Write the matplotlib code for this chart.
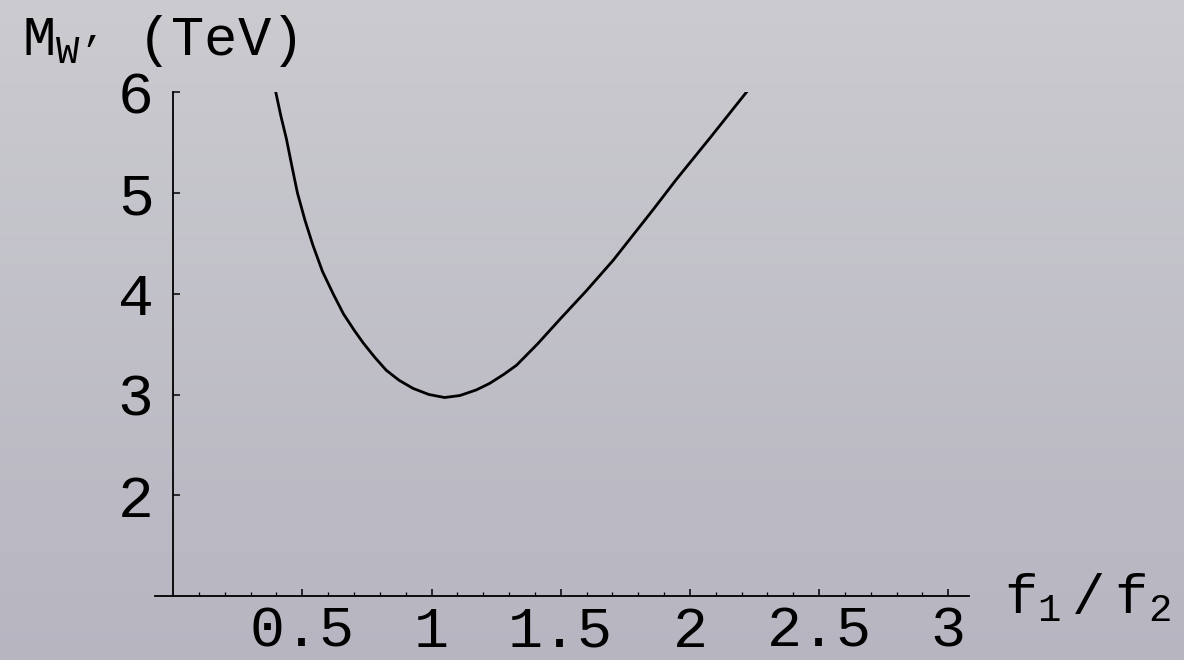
"""W' mass versus f1/f2, redrawn in a Mathematica-like style."""

import matplotlib

matplotlib.use("Agg")

import matplotlib.pyplot as plt
import numpy as np

# Curve
ratio = [0.397, 0.418, 0.438, 0.460, 0.481, 0.510, 0.541, 0.578, 0.619,
         0.659, 0.700, 0.736, 0.780, 0.825, 0.875, 0.929, 0.990, 1.051,
         1.110, 1.173, 1.225, 1.280, 1.329, 1.410, 1.495, 1.600, 1.703,
         1.780, 1.857, 1.947, 2.080, 2.220]
mass_tev = [6.00, 5.75, 5.54, 5.26, 5.00, 4.73, 4.48, 4.22, 4.00,
            3.80, 3.64, 3.51, 3.37, 3.24, 3.14, 3.06, 3.00, 2.97,
            2.99, 3.045, 3.11, 3.20, 3.29, 3.50, 3.74, 4.03, 4.33,
            4.58, 4.83, 5.13, 5.55, 6.00]

x_ticks = [0.5, 1, 1.5, 2, 2.5, 3]
x_tick_labels = ["0.5", "1", "1.5", "2", "2.5", "3"]
y_ticks = [2, 3, 4, 5, 6]
y_tick_labels = ["2", "3", "4", "5", "6"]

plt.rcParams["font.family"] = ["Liberation Mono", "DejaVu Sans Mono"]
plt.rcParams["mathtext.fontset"] = "custom"
plt.rcParams["mathtext.rm"] = "Liberation Mono"
plt.rcParams["mathtext.it"] = "Liberation Mono"
plt.rcParams["mathtext.tt"] = "Liberation Mono"

W, H = 1184, 660
fig = plt.figure(figsize=(W / 100, H / 100), dpi=100)

# Gray vertical gradient behind everything
bg = fig.add_axes([0, 0, 1, 1])
top = np.array([0.795, 0.795, 0.815])
bottom = np.array([0.715, 0.710, 0.755])
t = np.linspace(0, 1, 256)[:, None, None]
grad = top * (1 - t) + bottom * t
grad = np.repeat(grad, 2, axis=1)
bg.imshow(grad, aspect="auto", extent=[0, 1, 0, 1], interpolation="bilinear")
bg.set_axis_off()

ax = fig.add_axes([155 / W, 1 - 596.3 / H, (969 - 155) / W, (596.3 - 91.8) / H])
ax.patch.set_alpha(0)

ax.plot(ratio, mass_tev, color="black", lw=2.0, solid_joinstyle="round")

ax.set_xlim(-0.07, 3.08)
ax.set_ylim(1, 6)

for side in ("top", "right"):
    ax.spines[side].set_visible(False)
ax.spines["left"].set_position(("data", 0))
ax.spines["left"].set_linewidth(1.3)
ax.spines["bottom"].set_linewidth(1.3)

ax.set_xticks(x_ticks)
ax.set_xticklabels(x_tick_labels)
ax.set_xticks(np.arange(0.1, 3.05, 0.1), minor=True)
ax.set_yticks(y_ticks)
ax.set_yticklabels(y_tick_labels)

ax.tick_params(axis="x", which="major", direction="in", length=5, width=1.1,
               labelsize=42, pad=6)
ax.tick_params(axis="x", which="minor", direction="in", length=3, width=0.9)
ax.tick_params(axis="y", which="major", direction="in", length=5, width=1.1,
               labelsize=43, pad=14)

# Axis labels sit at the ends of the axes, as Mathematica draws them
fig.text(22 / W, 1 - 55 / H, r"$\mathrm{M_{W’}}$ (TeV)", fontsize=40,
         ha="left", va="baseline")
fig.text(1004 / W, 1 - 613 / H, r"$\mathrm{f_1\;/\;f_2}$", fontsize=40,
         ha="left", va="baseline")

fig.savefig("out.png", dpi=100)
